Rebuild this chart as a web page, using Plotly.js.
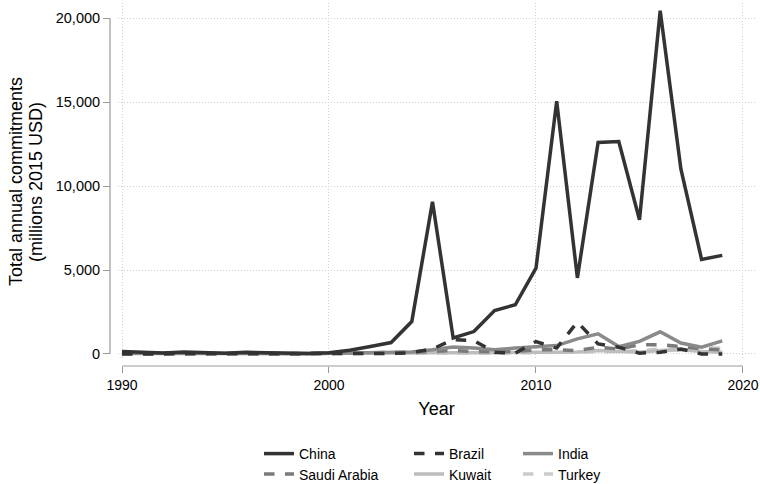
<!DOCTYPE html>
<html>
<head>
<meta charset="utf-8">
<script src="https://cdn.plot.ly/plotly-3.0.1.min.js"></script>
<style>html,body{margin:0;padding:0;background:#fff;}#chart{width:760px;height:484px;}</style>
</head>
<body>
<div id="chart"></div>
<script>
const years = [1990,1991,1992,1993,1994,1995,1996,1997,1998,1999,2000,2001,2002,2003,2004,2005,2006,2007,2008,2009,2010,2011,2012,2013,2014,2015,2016,2017,2018,2019];
const china = [150,80,60,120,60,40,100,60,40,30,80,220,440,680,1930,9060,950,1335,2590,2930,5110,15050,4530,12600,12650,7990,20440,11020,5630,5870];
const brazil = [0,0,0,0,0,0,0,0,0,0,0,0,0,30,80,300,850,800,100,50,740,350,1900,600,400,50,100,300,0,0];
const india = [50,40,30,40,30,30,40,30,20,20,30,40,50,80,120,250,420,350,250,350,450,500,900,1200,440,750,1320,650,400,780];
const saudi = [60,50,40,40,50,40,40,30,30,30,40,40,60,80,100,150,200,150,120,150,250,250,200,400,300,550,550,450,300,250];
const kuwait = [30,30,30,30,20,20,30,20,20,20,30,30,40,50,60,80,100,80,80,90,150,150,120,200,150,100,200,250,150,100];
const turkey = [0,0,0,0,0,0,0,0,0,0,0,10,20,30,40,60,80,60,50,60,100,120,100,150,150,200,300,400,350,350];

const xTicks = [1990,2000,2010,2020];
const yTicks = [0,5000,10000,15000,20000];
const yTitleLines = ['Total annual commitments', '(millions 2015 USD)'];

const series = [
  {name:'China', y:china, color:'#333333', dash:'solid'},
  {name:'Brazil', y:brazil, color:'#333333', dash:'dash'},
  {name:'India', y:india, color:'#8a8a8a', dash:'solid'},
  {name:'Saudi Arabia', y:saudi, color:'#7a7a7a', dash:'dash'},
  {name:'Kuwait', y:kuwait, color:'#bdbdbd', dash:'solid'},
  {name:'Turkey', y:turkey, color:'#cccccc', dash:'dash'}
];
const legendIds = ['legend','legend2','legend3','legend4','legend5','legend6'];
// draw order: light lines first, China on top
const order = ['Turkey','Kuwait','Saudi Arabia','India','Brazil','China'];
const traces = order.map(n => {
  const i = series.findIndex(t => t.name === n);
  const s = series[i];
  return {x: years, y: s.y, name: s.name, type:'scatter', mode:'lines',
    line:{color:s.color, width:3.5, dash:s.dash}, legend:legendIds[i]};
});

const fam = 'Liberation Sans, Arial, Helvetica, sans-serif';
const W = 760, H = 484;
// legend grid: 3 columns x 2 rows (pixel positions of the page)
const colX = [259, 409, 518];
const rowY = [438, 458.5];
// plot paper: left 110, right 755, top 3, bottom 366
const PL = 110, PW = 645, PT = 3, PH = 363;

const layout = {
  width:W, height:H,
  margin:{l:PL, r:W-PL-PW, t:PT, b:H-PT-PH, autoexpand:false},
  paper_bgcolor:'#fff', plot_bgcolor:'#fff',
  font:{family:fam, size:14, color:'#000'},
  showlegend:true,
  xaxis:{
    domain:[8/PW, 1], range:[1989.807, 2020.58], anchor:'free', position:0,
    tickvals:xTicks, ticktext:xTicks.map(String), ticks:'outside', ticklen:6, tickcolor:'#999', tickwidth:1,
    tickangle:0, showline:false, zeroline:false, showgrid:true, gridcolor:'#cfcfcf', griddash:'1px,2px', gridwidth:1,
    tickfont:{size:14, color:'#000'},
    title:{text:'Year', font:{size:18, color:'#000'}, standoff:10}
  },
  yaxis:{
    domain:[6/PH, 1], range:[-359, 20900], anchor:'free', position:0,
    tickvals:yTicks, ticktext:yTicks.map(v => v.toLocaleString('en-US')), ticks:'outside', ticklen:7, tickcolor:'#999', tickwidth:1,
    showline:false, zeroline:false, showgrid:true, gridcolor:'#cfcfcf', griddash:'1px,2px', gridwidth:1,
    tickfont:{size:14.5, color:'#000'}
  },
  annotations: yTitleLines.map((t, i) => ({
    text:t, textangle:-90, showarrow:false, xref:'paper', yref:'paper',
    x:(16 + i*20 - PL)/PW, y:(PT + PH - 182)/PH, xanchor:'center', yanchor:'middle',
    font:{family:fam, size:18, color:'#000'}
  })),
  shapes:[
    {type:'line', xref:'x', yref:'paper', x0:xTicks[0], x1:xTicks[xTicks.length-1], y0:0, y1:0, line:{color:'#999', width:1.2}},
    {type:'line', xref:'paper', yref:'y', x0:0, x1:0, y0:yTicks[0], y1:yTicks[yTicks.length-1], line:{color:'#999', width:1.2}}
  ]
};
legendIds.forEach((id, i) => {
  layout[id] = {orientation:'v', xref:'container', yref:'container', xanchor:'left', yanchor:'top',
    x: colX[i % 3] / W, y: 1 - rowY[Math.floor(i / 3)] / H,
    font:{family:fam, size:14, color:'#000'}, bgcolor:'rgba(0,0,0,0)', borderwidth:0};
});

Plotly.newPlot('chart', traces, layout, {displayModeBar:false, staticPlot:true});
</script>
</body>
</html>
